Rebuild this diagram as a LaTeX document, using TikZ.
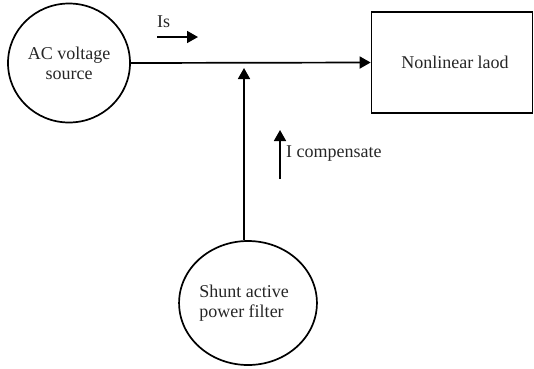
\documentclass[tikz,border=0pt]{standalone}
\usepackage{fontspec}
\setmainfont{Liberation Serif}
\usetikzlibrary{shapes.geometric,arrows.meta}
\tikzset{
  wire/.style={line width=1.7pt,draw=black},
  flow/.style={wire,-{Triangle[length=11pt,width=12pt]}},
  blob/.style={ellipse,draw=black,line width=1.7pt,inner sep=0pt,align=center,font=\fontsize{18}{20}\selectfont,text=black!85},
  box/.style={rectangle,draw=black,line width=1.7pt,inner sep=0pt,font=\fontsize{18}{20}\selectfont,text=black!85},
  lbl/.style={inner sep=0pt,font=\fontsize{18}{20}\selectfont,text=black!85}
}
\begin{document}
\begin{tikzpicture}[x=1pt,y=-1pt]
\useasboundingbox (0,0) rectangle (534,368);
\node[blob,minimum width=122pt,minimum height=119pt] (ac) at (69,63) {AC voltage\\source};
\node[box,minimum width=161pt,minimum height=101pt] (load) at (452,62.5) {\hspace*{6pt}Nonlinear laod};
\node[blob,align=left,minimum width=132pt,minimum height=124pt] (filter) at (248,303) {Shunt active\hspace*{8pt}\\power filter};
\coordinate (j) at (244,68);
\draw[flow] (ac.east) -- (load.west);
\draw[flow] (j |- filter.north) -- (j);
\coordinate (isA) at (157,37);
\coordinate (isB) at (198,37);
\draw[flow] (isA) -- (isB);
\node[lbl,anchor=base west] (is) at (157,27) {Is};
\coordinate (icA) at (280,179);
\coordinate (icB) at (280,130);
\draw[flow] (icA) -- (icB);
\node[lbl,anchor=west] (ic) at (286,154) {I compensate};
\end{tikzpicture}
\end{document}
